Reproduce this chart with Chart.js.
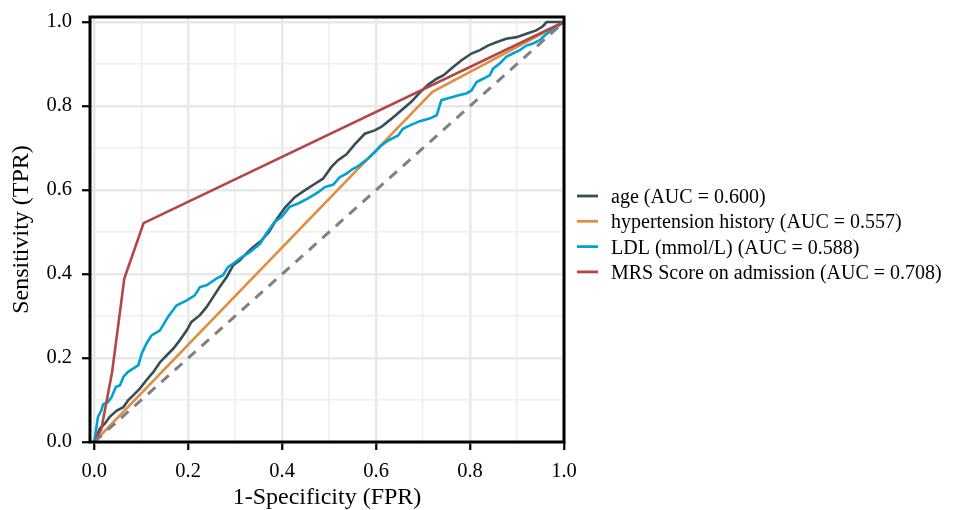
<!DOCTYPE html>
<html><head><meta charset="utf-8">
<script src="https://cdn.jsdelivr.net/npm/chart.js@4/dist/chart.umd.min.js"></script>
<style>html,body{margin:0;padding:0;background:#fff}#wrap{position:relative;width:969px;height:510px}</style>
</head><body><div id="wrap"><canvas id="c" width="969" height="510"></canvas></div>
<script>
// ---- data ----
const ageFPR = [0,0.006,0.012,0.023,0.033,0.048,0.062,0.072,0.083,0.097,0.111,0.126,0.140,0.154,0.168,0.182,0.197,0.207,0.225,0.239,0.253,0.267,0.282,0.296,0.310,0.324,0.338,0.356,0.372,0.388,0.406,0.427,0.448,0.470,0.487,0.505,0.519,0.537,0.554,0.576,0.597,0.611,0.633,0.654,0.675,0.693,0.711,0.729,0.743,0.764,0.782,0.803,0.821,0.838,0.856,0.877,0.899,0.920,0.941,0.955,0.963,1.0];
const ageTPR = [0,0.016,0.032,0.044,0.060,0.075,0.083,0.099,0.111,0.127,0.147,0.167,0.190,0.206,0.222,0.242,0.266,0.286,0.302,0.321,0.345,0.369,0.393,0.421,0.433,0.449,0.464,0.480,0.500,0.530,0.558,0.583,0.599,0.615,0.627,0.655,0.671,0.685,0.708,0.734,0.742,0.750,0.770,0.790,0.810,0.832,0.851,0.865,0.873,0.893,0.909,0.925,0.933,0.944,0.952,0.960,0.964,0.972,0.980,0.990,1.0,1.0];
const hypFPR = [0,0.72,1];
const hypTPR = [0,0.834,1];
const ldlFPR = [0,0.004,0.008,0.015,0.019,0.029,0.037,0.046,0.055,0.062,0.072,0.086,0.094,0.101,0.111,0.122,0.140,0.157,0.175,0.197,0.214,0.225,0.239,0.260,0.274,0.285,0.296,0.310,0.331,0.353,0.365,0.384,0.399,0.416,0.434,0.455,0.477,0.491,0.509,0.523,0.537,0.550,0.562,0.583,0.597,0.611,0.626,0.647,0.657,0.672,0.693,0.714,0.729,0.739,0.757,0.778,0.792,0.803,0.814,0.828,0.842,0.849,0.863,0.877,0.891,0.906,0.920,0.934,0.948,0.959,0.973,0.984,1.0];
const ldlTPR = [0,0.030,0.060,0.075,0.090,0.095,0.107,0.131,0.135,0.155,0.167,0.177,0.183,0.210,0.234,0.254,0.266,0.298,0.325,0.337,0.349,0.369,0.373,0.389,0.397,0.417,0.425,0.437,0.452,0.472,0.494,0.524,0.536,0.560,0.568,0.580,0.595,0.607,0.613,0.631,0.639,0.650,0.657,0.675,0.690,0.706,0.718,0.730,0.746,0.754,0.764,0.770,0.778,0.814,0.820,0.826,0.830,0.837,0.857,0.865,0.873,0.889,0.901,0.917,0.925,0.933,0.944,0.949,0.957,0.968,0.980,0.988,1.0];
const mrsFPR = [0,0.015,0.038,0.064,0.105,1];
const mrsTPR = [0,0.030,0.166,0.389,0.521,1];
const diagFPR = [0,1];
const diagTPR = [0,1];
const seriesNames = ['age (AUC = 0.600)','hypertension history (AUC = 0.557)','LDL (mmol/L) (AUC = 0.588)','MRS Score on admission (AUC = 0.708)'];
const seriesColors = ['#374E55','#DF8F44','#00A1D5','#B24745'];
const axisTicks = [0,0.2,0.4,0.6,0.8,1.0];
const xTitle = '1-Specificity (FPR)';
const yTitle = 'Sensitivity (TPR)';

const pts = (xs, ys) => xs.map((x, i) => ({x: x, y: ys[i]}));
const SERIF = '"Liberation Serif", "Times New Roman", serif';

const isMajor = v => axisTicks.some(t => Math.abs(t - v) < 1e-6);

function gridOpts() {
  return {
    color: c => isMajor(c.tick.value) ? '#e8e8e8' : '#eeeeee',
    lineWidth: c => isMajor(c.tick.value) ? 2.5 : 1.4,
    drawTicks: true,
    tickLength: 8,
    tickColor: c => isMajor(c.tick.value) ? '#000' : 'rgba(0,0,0,0)',
    tickWidth: 2.2
  };
}
function tickOpts(pad) {
  return {
    stepSize: 0.1,
    includeBounds: false,
    autoSkip: false,
    maxRotation: 0,
    padding: pad,
    color: '#000',
    font: {family: SERIF, size: 20.5},
    callback: v => isMajor(v) ? Number(v).toFixed(1) : ''
  };
}

const framePlugin = {
  id: 'frame',
  afterDraw(chart) {
    const {ctx, chartArea: a} = chart;
    ctx.save();
    ctx.strokeStyle = '#000';
    ctx.lineWidth = 3;
    ctx.strokeRect(a.left, a.top, a.right - a.left, a.bottom - a.top);
    // legend
    const lx = 577, ly0 = 196, dy = 25.3;
    ctx.font = '20px ' + SERIF;
    ctx.textBaseline = 'alphabetic';
    ctx.textAlign = 'left';
    seriesNames.forEach((n, i) => {
      const y = ly0 + i * dy;
      ctx.strokeStyle = seriesColors[i];
      ctx.lineWidth = 2.8;
      ctx.beginPath(); ctx.moveTo(lx, y); ctx.lineTo(lx + 21, y); ctx.stroke();
      ctx.fillStyle = '#000';
      ctx.fillText(n, lx + 34, y + 7);
    });
    ctx.restore();
  }
};

const lineDs = (label, data, color, order) => ({
  label, data, borderColor: color, backgroundColor: color,
  borderWidth: 2.6, pointRadius: 0, showLine: true, tension: 0, fill: false, order
});

new Chart(document.getElementById('c'), {
  type: 'scatter',
  data: {
    datasets: [
      Object.assign(lineDs('diag', pts(diagFPR, diagTPR), '#808080', 0), {borderDash: [10, 8], borderWidth: 3}),
      lineDs(seriesNames[3], pts(mrsFPR, mrsTPR), seriesColors[3], 1),
      lineDs(seriesNames[2], pts(ldlFPR, ldlTPR), seriesColors[2], 2),
      lineDs(seriesNames[1], pts(hypFPR, hypTPR), seriesColors[1], 3),
      lineDs(seriesNames[0], pts(ageFPR, ageTPR), seriesColors[0], 4)
    ]
  },
  options: {
    responsive: false,
    animation: false,
    devicePixelRatio: 1,
    layout: {padding: {left: 0, right: 405, top: 17, bottom: 0}},
    plugins: {legend: {display: false}, tooltip: {enabled: false}},
    scales: {
      x: {
        type: 'linear', position: 'bottom', min: -0.009, max: 1.0,
        afterFit: s => { s.height = 68; s.paddingLeft = 0; s.paddingRight = 0; },
        grid: gridOpts(),
        border: {display: false},
        ticks: tickOpts(9),
        title: {display: true, text: xTitle, color: '#000', font: {family: SERIF, size: 24, lineHeight: 1}, padding: {top: 0, bottom: 0}}
      },
      y: {
        type: 'linear', position: 'left', min: 0, max: 1.012,
        afterFit: s => { s.width = 90; s.paddingTop = 0; s.paddingBottom = 0; },
        grid: gridOpts(),
        border: {display: false},
        ticks: tickOpts(10),
        title: {display: true, text: yTitle, color: '#000', font: {family: SERIF, size: 24, lineHeight: 1}, padding: {top: 10, bottom: 0}}
      }
    }
  },
  plugins: [framePlugin]
});
</script></body></html>
